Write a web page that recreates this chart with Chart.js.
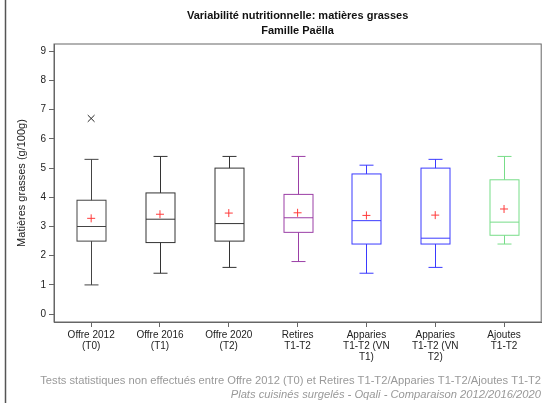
<!DOCTYPE html>
<html>
<head>
<meta charset="utf-8">
<script src="https://cdn.jsdelivr.net/npm/chart.js@4.4.0/dist/chart.umd.min.js"></script>
<style>
  html, body { margin: 0; padding: 0; background: #fff; }
  #wrap { position: relative; width: 547px; height: 407px; }
</style>
</head>
<body>
<div id="wrap"><canvas id="chart" width="547" height="407"></canvas></div>
<script>
// === DATA ===
const categories = [
  ['Offre 2012', '(T0)'],
  ['Offre 2016', '(T1)'],
  ['Offre 2020', '(T2)'],
  ['Retires', 'T1-T2'],
  ['Apparies', 'T1-T2 (VN', 'T1)'],
  ['Apparies', 'T1-T2 (VN', 'T2)'],
  ['Ajoutes', 'T1-T2']
];
const whiskerLow  = [1.0, 1.4, 1.6, 1.8, 1.4, 1.6, 2.4];
const q1          = [2.5, 2.45, 2.5, 2.8, 2.4, 2.4, 2.7];
const medians     = [3.0, 3.25, 3.1, 3.3, 3.2, 2.6, 3.15];
const q3          = [3.9, 4.15, 5.0, 4.1, 4.8, 5.0, 4.6];
const whiskerHigh = [5.3, 5.4, 5.4, 5.4, 5.1, 5.3, 5.4];
const means       = [3.28, 3.42, 3.46, 3.47, 3.38, 3.39, 3.6];
const outlierX    = [0];
const outlierY    = [6.7];
const yTicks      = [0, 1, 2, 3, 4, 5, 6, 7, 8, 9];

const boxColors = ['#444', '#333', '#333', '#9b3fa6', '#3a3aff', '#3a3aff', '#77dd88'];
const FONT = "'Liberation Sans', Arial, sans-serif";

// === BOX PLOT DRAWING (boxes, whiskers, medians) ===
const boxPlugin = {
  id: 'boxes',
  beforeDatasetsDraw(chart) {
    const { ctx, scales: { x, y } } = chart;
    const boxHalf = 14.5, capHalf = 7;
    ctx.save();
    ctx.lineWidth = 1;
    categories.forEach((_, i) => {
      const cx = Math.round(x.getPixelForValue(i)) + 0.5;
      const yLo = y.getPixelForValue(whiskerLow[i]);
      const yQ1 = y.getPixelForValue(q1[i]);
      const yMed = y.getPixelForValue(medians[i]);
      const yQ3 = y.getPixelForValue(q3[i]);
      const yHi = y.getPixelForValue(whiskerHigh[i]);
      ctx.strokeStyle = boxColors[i];
      ctx.beginPath();
      // whiskers
      ctx.moveTo(cx, yQ1); ctx.lineTo(cx, yLo);
      ctx.moveTo(cx - capHalf, yLo); ctx.lineTo(cx + capHalf, yLo);
      ctx.moveTo(cx, yQ3); ctx.lineTo(cx, yHi);
      ctx.moveTo(cx - capHalf, yHi); ctx.lineTo(cx + capHalf, yHi);
      // median
      ctx.moveTo(cx - boxHalf, yMed); ctx.lineTo(cx + boxHalf, yMed);
      ctx.stroke();
      ctx.strokeRect(cx - boxHalf, yQ3, boxHalf * 2, yQ1 - yQ3);
    });
    ctx.restore();
  },
  afterDraw(chart) {
    const { ctx, chartArea: a } = chart;
    ctx.save();
    // plot frame
    ctx.strokeStyle = '#666';
    ctx.lineWidth = 1;
    ctx.strokeRect(a.left, a.top, a.right - a.left, a.bottom - a.top);
    // left page border
    ctx.strokeStyle = '#555';
    ctx.lineWidth = 1.5;
    ctx.beginPath(); ctx.moveTo(5.5, 0); ctx.lineTo(5.5, 403); ctx.stroke();

    const midX = (a.left + a.right) / 2;
    ctx.fillStyle = '#111';
    ctx.textAlign = 'center';
    ctx.textBaseline = 'middle';
    ctx.font = 'bold 11px ' + FONT;
    ctx.fillText('Variabilité nutritionnelle: matières grasses', midX, 16);
    ctx.fillText('Famille Paëlla', midX, 31);

    // y axis title
    ctx.save();
    ctx.translate(22, (a.top + a.bottom) / 2);
    ctx.rotate(-Math.PI / 2);
    ctx.font = '11px ' + FONT;
    ctx.fillStyle = '#222';
    ctx.fillText('Matières grasses (g/100g)', 0, 0);
    ctx.restore();

    // footnotes
    ctx.textAlign = 'right';
    ctx.fillStyle = '#999';
    ctx.font = '11.2px ' + FONT;
    ctx.fillText('Tests statistiques non effectués entre Offre 2012 (T0) et Retires T1-T2/Apparies T1-T2/Ajoutes T1-T2', 541, 381);
    ctx.font = 'italic 11.2px ' + FONT;
    ctx.fillText('Plats cuisinés surgelés - Oqali - Comparaison 2012/2016/2020', 541, 395);
    ctx.restore();
  }
};

const ctx = document.getElementById('chart').getContext('2d');
new Chart(ctx, {
  type: 'scatter',
  data: {
    datasets: [
      {
        label: 'Moyenne',
        data: means.map((m, i) => ({ x: i, y: m })),
        pointStyle: 'cross',
        pointRadius: 4,
        borderColor: '#ff3b3b',
        borderWidth: 1
      },
      {
        label: 'Extrêmes',
        data: outlierX.map((xv, i) => ({ x: xv, y: outlierY[i] })),
        pointStyle: 'crossRot',
        pointRadius: 4.8,
        borderColor: '#222',
        borderWidth: 1
      }
    ]
  },
  options: {
    responsive: false,
    animation: false,
    layout: { padding: { left: 0, right: 5.5, top: 44, bottom: 0 } },
    plugins: {
      legend: { display: false },
      tooltip: { enabled: false }
    },
    scales: {
      x: {
        type: 'linear',
        min: -0.54,
        max: 6.54,
        afterBuildTicks: (scale) => { scale.ticks = categories.map((_, i) => ({ value: i })); },
        afterFit: (scale) => { scale.height = 85; },
        ticks: {
          callback: (v) => categories[v],
          autoSkip: false,
          maxRotation: 0,
          padding: 3,
          color: '#222',
          font: { family: FONT, size: 10, lineHeight: 1.1 }
        },
        grid: { drawOnChartArea: false, drawTicks: true, tickLength: 5, color: '#666' },
        border: { display: true, color: '#666' }
      },
      y: {
        min: -0.27,
        max: 9.25,
        afterBuildTicks: (scale) => { scale.ticks = yTicks.map(v => ({ value: v })); },
        afterFit: (scale) => { scale.width = 54; },
        ticks: {
          padding: 3,
          color: '#222',
          font: { family: FONT, size: 10 }
        },
        grid: { drawOnChartArea: false, drawTicks: true, tickLength: 5, color: '#666' },
        border: { display: true, color: '#666' }
      }
    }
  },
  plugins: [boxPlugin]
});
</script>
</body>
</html>
